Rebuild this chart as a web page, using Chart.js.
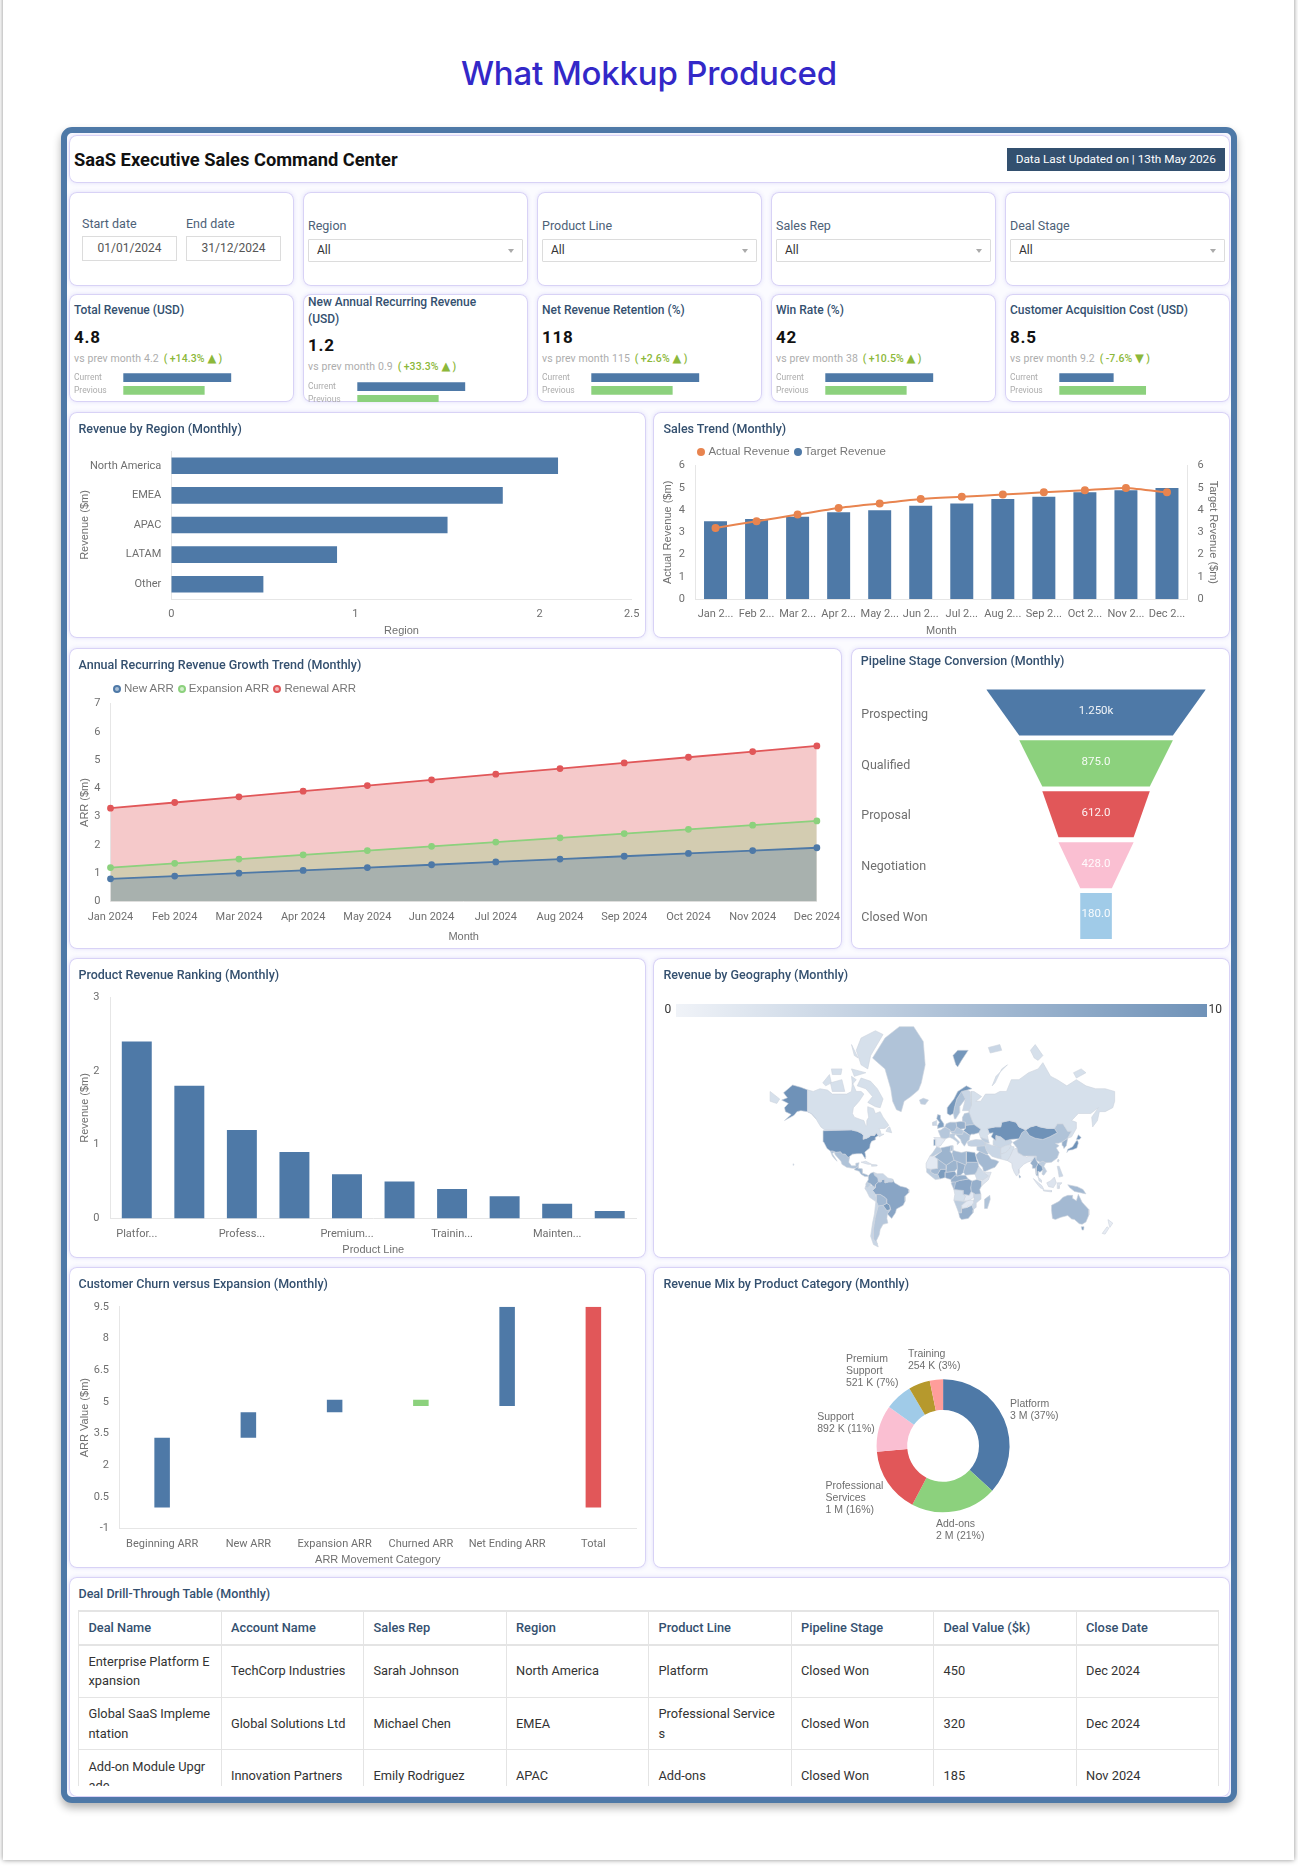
<!DOCTYPE html>
<html lang="en">

<head>
    <meta charset="UTF-8">
    <title>SaaS Executive Sales Command Center</title>
    <script src="https://cdn.jsdelivr.net/npm/chart.js"></script>
    <style>
        * { box-sizing: border-box; }
        html, body { margin: 0; width: 1298px; height: 1867px; overflow: hidden; background: #fff; font-family: Roboto, sans-serif; }
        .sheet { position: absolute; left: 3px; top: -12px; width: 1291px; height: 1872px; background: #fff; box-shadow: 0 0 5px rgba(0, 0, 0, .45); }
        .heading { position: absolute; left: 0; width: 1298px; top: 53px; text-align: center; font: 500 33px/40px Inter, sans-serif; color: #3328c8; letter-spacing: -.2px; }
        .frame { position: absolute; left: 60.5px; top: 127px; width: 1176px; height: 1676px; border: 6px solid #4e79a7; border-radius: 11px; background: #fbfbff; box-shadow: 0 5px 8px rgba(0, 0, 0, .3); }
        .card { position: absolute; background: #fff; border-radius: 8px; box-shadow: inset 0 0 0 1px #d8d2f6, 0 0 4px rgba(110, 100, 230, .18); overflow: hidden; }
        .card canvas { position: absolute; left: 0; top: 0; }
        .card-title { position: absolute; left: 10px; top: 9px; font: 500 12.5px/16px Roboto, sans-serif; color: #34506f; white-space: nowrap; }
        .main-title { position: absolute; left: 5.5px; top: 13px; font: 700 18.3px/24px Roboto, sans-serif; color: #111; }
        .updated { position: absolute; right: 5.5px; top: 13px; width: 217.5px; height: 23px; background: #33506f; color: #fff; text-align: center; font: 400 11.8px/23px Roboto, sans-serif; }
        .flabel { position: absolute; font: 400 12.5px/16px Roboto, sans-serif; color: #4d6177; }
        .date { position: absolute; top: 43.5px; width: 95px; height: 25px; border: 1px solid #dcdcdc; text-align: center; font: 400 12px/23px Roboto, sans-serif; color: #555; }
        .select { position: absolute; left: 5.5px; top: 47px; width: 214.5px; height: 23px; border: 1px solid #dcdcdc; border-radius: 1px; padding-left: 8px; font: 400 12px/21px Roboto, sans-serif; color: #333; }
        .select::after { content: ""; position: absolute; right: 8px; top: 9px; border: 3px solid transparent; border-top: 4px solid #aaa; }
        .kpi-title { position: absolute; left: 5.5px; width: 200px; font: 500 12px/16.7px Roboto, sans-serif; color: #34506f; }
        .kpi-value { position: absolute; left: 5.5px; font: 700 17px/20px Roboto, sans-serif; letter-spacing: .8px; color: #111; }
        .kpi-sub { position: absolute; left: 5.5px; font: 400 10.5px/14px Roboto, sans-serif; letter-spacing: .1px; color: #adadad; white-space: nowrap; }
        .kpi-sub b { font-weight: 500; color: #8cb83a; }
        .kpi-sub .tri { font: 400 11.5px/14px "DejaVu Sans", sans-serif; }
        .legend { position: absolute; font: 400 11.5px/14px "Liberation Sans", sans-serif; color: #777; white-space: nowrap; }
        .legend i { display: inline-block; width: 8px; height: 8px; border-radius: 50%; margin: 0 3px 0 4px; vertical-align: -1px; }
        .scale-bar { position: absolute; left: 22.6px; top: 45.5px; width: 531px; height: 13px; background: linear-gradient(90deg, #f0f3f8, #6f92b8); }
        .scale-num { position: absolute; top: 43px; font: 400 12px/16px Roboto, sans-serif; color: #333; }
        .deals { position: absolute; left: 9.5px; top: 33px; width: 1141px; height: 175.5px; overflow: hidden; }
        table { width: 1141px; table-layout: fixed; border-collapse: collapse; font: 400 12.8px/19.5px Roboto, sans-serif; color: #333; }
        td, th { border: 1px solid #e4e4e4; padding: 6px 9.5px; text-align: left; word-break: break-all; height: 52.7px; }
        th { height: 33.5px; font-weight: 500; color: #34506f; border-bottom: 2px solid #e4e4e4; border-top: 2px solid #e4e4e4; white-space: nowrap; }
    </style>
</head>

<body>
    <div class="sheet"></div>
    <div class="heading">What Mokkup Produced</div>
    <div class="frame"></div>

    <div class="card" style="left:68.5px;top:135px;width:1161.5px;height:48px">
        <div class="main-title">SaaS Executive Sales Command Center</div>
        <div class="updated">Data Last Updated on | 13th May 2026</div>
    </div>

    <!-- filtros -->
    <div class="card" style="left:68.5px;top:192px;width:225.5px;height:94px">
        <div class="flabel" style="left:13.5px;top:24px">Start date</div>
        <div class="flabel" style="left:117.5px;top:24px">End date</div>
        <div class="date" style="left:13.5px">01/01/2024</div>
        <div class="date" style="left:117.5px">31/12/2024</div>
    </div>
    <div id="filters"></div>
    <div id="kpis"></div>

    <div class="card" style="left:68.5px;top:412px;width:577px;height:226px">
        <canvas id="regionChart"></canvas>
        <div class="card-title">Revenue by Region (Monthly)</div>
    </div>
    <div class="card" style="left:653.4px;top:412px;width:576.6px;height:226px">
        <canvas id="trendChart"></canvas>
        <div class="card-title">Sales Trend (Monthly)</div>
        <div class="legend" style="left:40px;top:31.6px"><i style="background:#e8844f"></i>Actual Revenue<i style="background:#4e79a7"></i>Target Revenue</div>
    </div>

    <div class="card" style="left:68.5px;top:647.5px;width:773.2px;height:301px">
        <canvas id="arrChart"></canvas>
        <div class="card-title">Annual Recurring Revenue Growth Trend (Monthly)</div>
        <div class="legend" style="left:40.5px;top:33px">
            <i style="border:2px solid #4e79a7;background:#a9bfd6"></i>New ARR<i style="border:2px solid #8cd17d;background:#d3eecd"></i>Expansion ARR<i style="border:2px solid #e15759;background:#f2b9ba"></i>Renewal ARR
        </div>
    </div>
    <div class="card" style="left:850.5px;top:647.5px;width:379.5px;height:301px">
        <canvas id="funnelChart"></canvas>
        <div class="card-title" style="top:5px;left:10.3px">Pipeline Stage Conversion (Monthly)</div>
    </div>

    <div class="card" style="left:68.5px;top:958px;width:577px;height:300px">
        <canvas id="productChart"></canvas>
        <div class="card-title">Product Revenue Ranking (Monthly)</div>
    </div>
    <div class="card" style="left:653.4px;top:958px;width:576.6px;height:300px">
        <canvas id="geoChart"></canvas>
        <div class="card-title">Revenue by Geography (Monthly)</div>
        <div class="scale-num" style="left:11px">0</div>
        <div class="scale-bar"></div>
        <div class="scale-num" style="left:555px">10</div>
    </div>

    <div class="card" style="left:68.5px;top:1267px;width:577px;height:301px">
        <canvas id="churnChart"></canvas>
        <div class="card-title">Customer Churn versus Expansion (Monthly)</div>
    </div>
    <div class="card" style="left:653.4px;top:1267px;width:576.6px;height:301px">
        <canvas id="mixChart"></canvas>
        <div class="card-title">Revenue Mix by Product Category (Monthly)</div>
    </div>

    <div class="card" style="left:68.5px;top:1577px;width:1161.5px;height:220px">
        <div class="card-title">Deal Drill-Through Table (Monthly)</div>
        <div class="deals"><table id="dealTable"></table></div>
    </div>

    <script>
        // filtros e KPIs
        const filterNames = ['Region', 'Product Line', 'Sales Rep', 'Deal Stage'];
        const kpiTitles = ['Total Revenue (USD)', 'New Annual Recurring Revenue (USD)', 'Net Revenue Retention (%)', 'Win Rate (%)', 'Customer Acquisition Cost (USD)'];
        const kpiValues = ['4.8', '1.2', '118', '42', '8.5'];
        const kpiPrevious = ['4.2', '0.9', '115', '38', '9.2'];
        const kpiChanges = ['+14.3% ▲', '+33.3% ▲', '+2.6% ▲', '+10.5% ▲', '-7.6% ▼'];
        const kpiBarCurrent = [1, 1, 1, 1, 0.5];
        const kpiBarPrevious = [0.75, 0.75, 0.75, 0.75, 0.8];

        // receita por região
        const regions = ['North America', 'EMEA', 'APAC', 'LATAM', 'Other'];
        const regionRevenue = [2.1, 1.8, 1.5, 0.9, 0.5];
        const regionTicks = [0, 1, 2, 2.5];

        // tendência de vendas
        const trendMonths = ['Jan 2...', 'Feb 2...', 'Mar 2...', 'Apr 2...', 'May 2...', 'Jun 2...', 'Jul 2...', 'Aug 2...', 'Sep 2...', 'Oct 2...', 'Nov 2...', 'Dec 2...'];
        const actualRevenue = [3.2, 3.5, 3.8, 4.1, 4.3, 4.5, 4.6, 4.7, 4.8, 4.9, 5.0, 4.8];
        const targetRevenue = [3.5, 3.6, 3.7, 3.9, 4.0, 4.2, 4.3, 4.5, 4.6, 4.8, 4.9, 5.0];

        // ARR
        const arrMonths = ['Jan 2024', 'Feb 2024', 'Mar 2024', 'Apr 2024', 'May 2024', 'Jun 2024', 'Jul 2024', 'Aug 2024', 'Sep 2024', 'Oct 2024', 'Nov 2024', 'Dec 2024'];
        const newArr = [0.8, 0.9, 1.0, 1.1, 1.2, 1.3, 1.4, 1.5, 1.6, 1.7, 1.8, 1.9];
        const expansionArr = [1.2, 1.35, 1.5, 1.65, 1.8, 1.95, 2.1, 2.25, 2.4, 2.55, 2.7, 2.85];
        const renewalArr = [3.3, 3.5, 3.7, 3.9, 4.1, 4.3, 4.5, 4.7, 4.9, 5.1, 5.3, 5.5];

        // funil
        const stages = ['Prospecting', 'Qualified', 'Proposal', 'Negotiation', 'Closed Won'];
        const stageValues = [1250, 875, 612, 428, 180];
        const stageLabels = ['1.250k', '875.0', '612.0', '428.0', '180.0'];

        // ranking de produtos
        const productLabels = ['Platfor...', '', 'Profess...', '', 'Premium...', '', 'Trainin...', '', 'Mainten...', ''];
        const productRevenue = [2.4, 1.8, 1.2, 0.9, 0.6, 0.5, 0.4, 0.3, 0.2, 0.1];

        // cascata de ARR
        const churnCategories = ['Beginning ARR', 'New ARR', 'Expansion ARR', 'Churned ARR', 'Net Ending ARR', 'Total'];
        const churnFrom = [0, 3.3, 4.5, 4.8, 4.8, 0];
        const churnTo = [3.3, 4.5, 5.1, 5.1, 9.5, 9.5];
        const churnTicks = [-1, 0.5, 2, 3.5, 5, 6.5, 8, 9.5];

        // mix de produtos (valores em $k; a fatia sem rótulo vem antes de Training)
        const mixValues = [2890, 1640, 1250, 892, 521, 410, 254];
        const mixLabels = [['Platform', '3 M (37%)'], ['Add-ons', '2 M (21%)'], ['Professional', 'Services', '1 M (16%)'], ['Support', '892 K (11%)'], ['Premium', 'Support', '521 K (7%)'], [], ['Training', '254 K (3%)']];
        const mixLabelSpots = [[357.1, 137], [283, 256.7], [172.6, 219], [164.2, 149.7], [192.9, 92.3], null, [254.9, 87]];

        // tabela
        const dealColumns = ['Deal Name', 'Account Name', 'Sales Rep', 'Region', 'Product Line', 'Pipeline Stage', 'Deal Value ($k)', 'Close Date'];
        const dealRows = [
            ['Enterprise Platform Expansion', 'TechCorp Industries', 'Sarah Johnson', 'North America', 'Platform', 'Closed Won', '450', 'Dec 2024'],
            ['Global SaaS Implementation', 'Global Solutions Ltd', 'Michael Chen', 'EMEA', 'Professional Services', 'Closed Won', '320', 'Dec 2024'],
            ['Add-on Module Upgrade', 'Innovation Partners', 'Emily Rodriguez', 'APAC', 'Add-ons', 'Closed Won', '185', 'Nov 2024']
        ];

        // mapa: contornos simplificados em pares lon,lat, valor de 0 a 10
        const geoValues = {
            Canada: 2, Baffin: 2, Victoria: 2, Ellesmere: 2, Banks: 2, Devon: 2, Melville: 2, Newfoundland: 2, Axel: 2, Somerset: 2,
            Alaska: 10, Usa: 10, Mexico: 5, CentralAmerica: 6.5, Cuba: 1.5, Hispaniola: 2, Hawaii: 4,
            Colombia: 7.5, Venezuela: 3, Ecuador: 4, Peru: 3, Brazil: 8, Bolivia: 6, Paraguay: 9, Chile: 3, Argentina: 4.5,
            Greenland: 5, Iceland: 4, Norway: 9.5, Sweden: 5, Finland: 3, Uk: 8.5, Ireland: 3, France: 4.5, Spain: 1, Portugal: 9,
            Germany: 6, Poland: 7, CentralEurope: 4.5, Italy: 4, Balkans: 5, Ukraine: 8.5, Baltics: 5, Turkey: 3.5, Caucasus: 4,
            Russia: 2, Chukotka: 2, NovayaZemlya: 2, Svalbard: 9.5, FranzJosef: 3, Severnaya: 2, NewSiberian: 2,
            Kazakhstan: 10, Mongolia: 10, China: 5, Korea: 7, Honshu: 10, Hokkaido: 10, Taiwan: 3,
            India: 1.5, Pakistan: 2, Afghanistan: 2, CentralAsia: 3, Iran: 3, Iraq: 5, Saudi: 6,
            Myanmar: 7, Thailand: 9, Indochina: 4, Malaya: 2, Sumatra: 1.5, Borneo: 1.5, Java: 1.5, Sulawesi: 1.5, NewGuinea: 6, Philippines: 3, SriLanka: 10,
            Australia: 6, Tasmania: 9, NzNorth: .7, NzSouth: .7,
            Morocco: 4, Mauritania: 1, Algeria: 6.5, Tunisia: 5, Libya: 6, Egypt: 9, Sudan: 6, Mali: 6, Niger: 6.5, Chad: 7, Nigeria: 8,
            WestCoast: 4, Ghana: 9, Cameroon: 7, Ethiopia: 2.5, Somalia: 1.5, Congo: 8, Gabon: 6, EastAfrica: 7, Angola: 2, Zambia: 1,
            Mozambique: 3, Namibia: 4, Zimbabwe: 1, SouthAfrica: 7, Madagascar: 5
        };
        const geoOutlines = {
            Canada: [-141,69.6,-135,69,-128,70,-120,69.5,-115,68,-108,68,-100,68,-95,69,-94,72,-90,69,-85,69,-82,68,-87,65,-93,62,-94,59,-92,57,-85,55.5,-82,55,-80,51.5,-79,52,-79,55,-77,57,-78,60,-78,62.5,-72,61.5,-70,59,-65,60,-62,57,-57,53,-56,52,-60,50,-66,50,-65,48.5,-64,46,-61,46,-66,44,-67,45,-69,47,-71,45,-75,45,-79,43,-83,42,-82.5,45,-84,46.5,-89,48,-95,49,-123,49,-127,51,-130,54,-132,56,-137,59,-141,60],
            Baffin: [-62,66,-65,62,-70,62.5,-78,64.5,-73,67,-80,70,-89,71,-85,73.5,-75,72.5,-68,70],
            Victoria: [-117,72,-105,73,-102,69,-115,69],
            Ellesmere: [-62,82.5,-70,83,-85,82,-90,80,-85,77,-78,76,-75,79],
            Banks: [-125,72,-118,74.5,-116,72,-122,71],
            Devon: [-95,76,-80,75,-92,74],
            Melville: [-116,76,-105,76,-106,74.5,-115,74.5],
            Newfoundland: [-59,48,-53,47,-55,51,-57,50.5],
            Axel: [-95,81,-88,78.5,-92,79],
            Somerset: [-95,74,-90,73,-94,71.5],
            Alaska: [-141,69.6,-148,70.5,-156.5,71.3,-166,68.5,-162,66.5,-168,65.5,-161,64,-165,62,-164,60,-158,58.5,-165,55,-155,58,-152,60,-148,60.5,-141,60,-137,59,-132,56,-130,55.5,-135,59,-141,60],
            Usa: [-124.7,48.4,-95,49,-89,48,-84.5,46.5,-82.5,45,-82.5,42.5,-79,43,-76,44,-75,45,-71,45,-69,47,-67,45,-70,43.5,-70,41.7,-74,40.5,-75.5,38,-76,35,-81,31.5,-80,27,-80.5,25.2,-82.5,28,-84,30,-89,30,-94,29.5,-97,27.5,-97.2,26,-99.5,27.5,-101.5,29.7,-104.5,29.7,-106.5,31.8,-111,31.3,-114.8,32.5,-117.1,32.5,-120.5,34.5,-124,40],
            Mexico: [-117.1,32.5,-114.8,32.5,-111,31.3,-106.5,31.8,-104.5,29.7,-101.5,29.7,-99.5,27.5,-97.2,26,-97.8,22,-95,18.5,-91,18.5,-90.5,21,-87,21.5,-88,18,-91,16,-94,16,-100,17,-105,20,-106,23,-112,29,-113,31.5,-115,30,-112,26,-110,23,-112,24.5,-115,28],
            CentralAmerica: [-92,14.5,-91,16,-88,18,-88,16,-84,15.5,-83.5,11,-79,9.5,-77.3,8.5,-78,7.5,-81,7.5,-85,10,-87,13],
            Cuba: [-85,22,-80,23,-74,20,-78,20],
            Hispaniola: [-74,19.8,-69,19.5,-68.5,18.3,-74,18],
            Hawaii: [-156,20.5,-155,19.8,-155.5,19,-156,19.5],
            Colombia: [-77.3,8.5,-75,11,-72,12,-71,9,-67.5,6,-67,2,-70,-1,-70,-4,-73,-2,-75,0,-79,1.5,-77.5,4,-77.5,7],
            Venezuela: [-72,12,-68,10.5,-62,10.5,-57,6,-52,5,-52,2,-56,2,-60,1,-60,5,-64,4,-64,2,-67,2,-67.5,6,-71,9],
            Ecuador: [-79,1.5,-75,0,-75.5,-2,-78.5,-4.5,-80.5,-3,-80,0],
            Peru: [-80.5,-3,-78.5,-4.5,-75.5,-2,-73,-2,-70,-4,-73,-7,-70,-11,-69,-16,-70,-18,-76,-14,-79,-8,-81,-5],
            Brazil: [-60,5,-60,1,-56,2,-52,2,-52,5,-50,1,-44,-2.5,-38,-4,-35,-6,-35,-9,-39,-13,-39,-18,-41,-22,-48,-25.5,-49,-29,-53,-34,-57.5,-30,-54,-26,-55,-22,-58,-20,-58,-16,-60,-14,-65,-11,-70,-11,-73,-7,-70,-4,-70,-1,-67,2,-64,2,-64,4],
            Bolivia: [-69,-11,-65,-11,-60,-14,-58,-16,-58,-20,-62,-22,-67,-22.5,-69,-18],
            Paraguay: [-62,-22,-58,-20,-55,-22,-54.5,-26,-58,-27],
            Chile: [-69.5,-18,-67,-22.5,-70,-32,-72,-42,-72,-50,-68,-53,-67,-55,-72,-53.5,-75,-48,-73,-38,-71,-30],
            Argentina: [-67,-22.5,-62,-22,-58,-27,-54.5,-26,-57.5,-30,-58,-34,-57,-38,-62,-39,-65,-43,-66,-47,-69,-51,-68,-53,-72,-50,-72,-42,-70,-32],
            Greenland: [-73,78.5,-60,82,-45,83.5,-30,83.5,-20,81.5,-18,77,-22,72,-25,69.5,-33,67,-40,65,-43,60,-48,61,-52,65,-54,70,-60,76],
            Iceland: [-24,65.5,-20,66.3,-14.5,65.5,-18,63.5,-22.5,63.8],
            Norway: [5,59,5,62,12,66,16,69,25,71,31,70,26,69.5,20,69,15,66,12.5,62,11.5,59,8,58],
            Sweden: [11.5,59,12.5,62,15,66,20,69,24,66,18,62.5,18,59.5,14,56,12.5,56],
            Finland: [21,60.5,24,66,20,69,26,69.5,29,69,30,63,28,60.5],
            Uk: [-5,50,1,51,1.5,53,-2,56,-2,58,-5,58.5,-6,56,-3,54,-5,52],
            Ireland: [-10,52,-6,52,-6,55,-10,54],
            France: [-1.5,43.4,3,42.5,7.5,43.7,8,49,2.5,51,-1.5,49,-4.5,48.5],
            Spain: [-9,43.5,-1.5,43.4,3,42,0,39,-2,36.8,-6,36,-7,37.5,-7,42],
            Portugal: [-9,42,-7,42,-7,37.5,-9,37],
            Germany: [2.5,51,4,53,8,54,14,54,15,51,12.5,48,8,48,8,49],
            Poland: [14,54,19,54.5,24,54,24,50,19,49.5,15,51],
            CentralEurope: [8,48,12.5,48,15,51,19,49.5,22,48.5,21,46,16,46,10,46.5],
            Italy: [7.5,43.7,7,46,13.5,46.5,12.5,44,18,40,16,38,15.5,40,11,42.5],
            Balkans: [13.5,46,21,46,22,48,29,45,28,41.5,26,40.5,23,36.5,20,39.5,19,42],
            Ukraine: [22,48.5,24,50,24,52,33,52.5,40,49.5,38,47,33,46,30,46,29,45],
            Baltics: [21,54,24,54,24,52,33,52.5,31,55,28,59.5,23,59,21,57],
            Turkey: [26,40,29,41,35,42,41.5,41.5,44.5,39.5,44.5,37,36,36.5,30,36.5,27,37],
            Caucasus: [40,43.5,48,41.5,49,39,44.5,39.5,41.5,41.5],
            Russia: [28,59.5,31,55,33,52.5,40,49.5,38,47,40,43.5,48,41.5,47,45,49,46.5,47,50,55,51,61,51,62,54,70,55,77,54,80,51,87,49,92,51,98,52,102,51,110,50,117,50,120,53,126,53,131,48,135,48,131,43,135,44,140,50,140,54,135,55,142,59,155,59,163,62,156,57,157,51,162,55,164,60,170,60,178,62,180,65,180,69,170,70,160,70,150,71,140,73,130,71,120,73,113,74,105,77.5,100,76,90,75,80,73,72,73,67,69,60,69,55,68,45,68,40,65,35,65,41,67,33,69,30,69,30,63,28,60.5],
            Chukotka: [-180,69,-170,66,-173,64,-180,65],
            NovayaZemlya: [52,71,56,74,68,77,62,76,55,72],
            Svalbard: [11,79,16,80,27,80,20,78,16,76.5,14,77],
            FranzJosef: [48,80.5,60,81,62,80,50,79.5],
            Severnaya: [92,80,97,81,105,79,100,78,96,78.5],
            NewSiberian: [137,75,145,76,150,75,140,73.5],
            Kazakhstan: [47,50,55,51,61,51,62,54,70,55,77,54,80,51,87,49,83,47,80,42.5,71,42,66,41,61,44,56,45,56,41,51,44,53,47,49,46.5],
            Mongolia: [87,49,92,51,98,52,102,51,110,50,117,50,120,47,112,44,105,42,97,43,91,45],
            China: [73.5,39.5,80,42.5,83,47,87,49,91,45,97,43,105,42,112,44,120,47,117,50,120,53,126,53,131,48,135,48,131,43,125,40,121,39,118,39,122,37,119,35,122,31,120,26,114,22,108,21.5,105,23,102,22,98,24,98,28,92,28,85,28,79,31,78,35],
            Korea: [125,40,131,43,129.5,37,127,34.5,126,37],
            Honshu: [130,31,131,34,136,36,140,41,141.5,41,142,39,140.5,35,136,33.5,132,33],
            Hokkaido: [140,42,142,45.5,145,43.5,143,42],
            Taiwan: [120,23,121,25,122,24,121,22],
            India: [68,23.5,71,28,74,34,78,35,79,31,85,28,88,27,92,28,97,28,94,24,92,23,89,22,85,20,80,15,80,11,77.5,8,75,12,73,17,72.5,21],
            Pakistan: [61.5,25,61,29.5,66,31,70,34,71.5,36.5,75,36,74,33,71,28,68,23.5],
            Afghanistan: [61,29.5,61,35,66,37,71,38,71.5,36.5,70,34,66,31],
            CentralAsia: [53,37.5,53,41,56,45,61,44,66,41,71,42,73,40,71,38,66,37,61,35],
            Iran: [44.5,39.5,49,38,53,37,61,36,61,30,61.5,25,57,26,52,27.5,49,30,46,33,44.5,37],
            Iraq: [36,36.5,44.5,37,46,33,48,30,46.5,29,39,32,36,33],
            Saudi: [35,29,39,32,46.5,29,48,28.5,51,25,56,24,59,22.5,55,17,52,16,45,13,43,13,42,17,38,21,35.5,27],
            Myanmar: [92,21,94,24,97,28,98,24,100,21,98,17,98,10,97,16,94,16,94,19],
            Thailand: [98,17,100,21,104,18,105,14.5,102,12,100,13,100,8,98,9,98,12],
            Indochina: [100,21,102,22,105,23,108,21.5,106,18,109,13,106,9,104,10,105,14.5,104,18],
            Malaya: [100,8,101,3,104,1.5,103.5,4,100.5,6.5],
            Sumatra: [95,5.5,104,-2,106,-6,102,-4,98,1],
            Borneo: [109,1,113,3,117,7,119,1,116,-4,111,-3],
            Java: [105,-6.5,114,-7,114,-8.5,106,-7.5],
            Sulawesi: [120,1,125,1,122,-2,122,-5,120,-5],
            NewGuinea: [131,-1,141,-3,147,-6,150,-10.5,143,-9,138,-8,133,-4],
            Philippines: [120,18,122,18,124,13,126,8,122,7,121,13],
            SriLanka: [80,9.5,82,7,80.5,6],
            Australia: [114,-22,122,-18,126,-14,131,-12,136,-12,136,-15,140,-17.5,142,-11,146,-19,153,-26,153,-31,150,-37,146,-39,143,-38.5,138,-35,135,-34.5,131,-31.5,124,-33,118,-35,115,-34,114,-27],
            Tasmania: [145,-41,148,-41,147.5,-43.5,146,-43.5],
            NzNorth: [173,-35,178,-38,175,-41.5,174,-39],
            NzSouth: [172,-41,174,-42,170,-46.5,167,-46],
            Morocco: [-6,36,-2,35,-1,32,-9,28,-13,28,-10,31],
            Mauritania: [-17,21,-13,28,-8.5,27,-5,25,-5,16,-12,15,-16.5,16],
            Algeria: [-2,35,9,37,8,32,10,30,12,24,4,19,-5,25,-8.5,27,-1,32],
            Tunisia: [9,37,11,37,11,33,8,32],
            Libya: [11,33,15,32,20,31,25,32,25,20,24,19.5,15,23,12,24,10,30],
            Egypt: [25,32,34,31,36,24,37,22,25,22],
            Sudan: [25,22,37,22,38,18,36,13,34,10,24,9,22,12,24,19.5],
            Mali: [-12,15,-5,16,-5,25,4,19,4,15,-2,15,-5,10,-8,10,-12,12],
            Niger: [4,19,12,24,15,23,15.5,16,13,13,4,12,4,15],
            Chad: [15,23,24,19.5,22,12,19,9,15,8,15.5,16],
            Nigeria: [3,6.5,3,12,4,12,13,13,14.5,10,9,4.5,5,5.5],
            WestCoast: [-16.5,16,-12,15,-12,12,-8,10,-5,10,-3,5,-7.5,4.5,-13,9,-16.5,12],
            Ghana: [-5,10,-2,15,4,15,4,12,3,12,3,6.5,-3,5],
            Cameroon: [9,4.5,14.5,10,15,8,19,9,24,9,27,5,18,3.5,14,2,10,2],
            Ethiopia: [34,10,36,13,38,18,43,12,48,8,42,4,36,4.5],
            Somalia: [43,12,51,12,48,4,41,-2,41,3,48,8],
            Congo: [12,-6,14,2,18,3.5,27,5,31,3,29.5,-4,30,-8,28,-12,22,-11,22,-7],
            Gabon: [9,1,10,2,14,2,18,3.5,17,-1,12,-6],
            EastAfrica: [29.5,-1,31,3,36,4.5,41,3,41,-2,39,-6,40,-10.5,34.5,-11,30,-8],
            Angola: [12,-6,22,-7,22,-11,24,-13,22,-18,12,-17,13,-11],
            Zambia: [22,-11,28,-12,30,-8,33,-10,33,-14,28,-17,22,-18,24,-13],
            Mozambique: [33,-10,40,-10.5,40,-16,35,-20,35,-24,32.5,-26,31,-22,33,-19,33,-14],
            Namibia: [12,-17,22,-18,25,-18,20,-22,20,-29,17,-29,14.5,-23],
            Zimbabwe: [25,-18,28,-17,33,-17,33,-19,31,-22,27,-22,26,-24,20,-25,20,-22],
            SouthAfrica: [17,-29,20,-29,20,-25,26,-24,31,-22,32.5,-26,32,-29,27,-34,20,-35,18,-33],
            Madagascar: [44,-16,49.5,-12,50,-16,47,-25,44,-25]
        };

        const BLUE = '#4e79a7', GREEN = '#8cd17d', RED = '#e15759', PINK = '#fabfd2', SKY = '#a0cbe8', OLIVE = '#b6992d', SALMON = '#ff9d9a', ORANGE = '#e8844f';
        const TICK = '#6f6f6f', AXIS = '#e6e6e6';

        Chart.defaults.animation = false;
        Chart.defaults.responsive = false;
        Chart.defaults.font.family = 'Roboto';
        Chart.defaults.font.size = 11;
        Chart.defaults.color = TICK;
        Chart.defaults.plugins.legend.display = false;
        Chart.defaults.plugins.tooltip.enabled = false;

        // filtros
        const filterBox = document.getElementById('filters');
        filterNames.forEach((name, i) => {
            const x = 302.5 + i * 234;
            filterBox.insertAdjacentHTML('beforeend',
                `<div class="card" style="left:${x}px;top:192px;width:225.5px;height:94px">
                    <div class="flabel" style="left:5.5px;top:25.5px">${name}</div>
                    <div class="select">All</div>
                </div>`);
        });

        // cartões de KPI
        const kpiBox = document.getElementById('kpis');
        kpiTitles.forEach((title, i) => {
            const x = 68.5 + i * 234;
            const shift = i === 1 ? 8.3 : 0; // título em duas linhas empurra o resto
            const change = kpiChanges[i].replace(/[▲▼]/, m => `<span class="tri">${m}</span>`);
            kpiBox.insertAdjacentHTML('beforeend',
                `<div class="card" style="left:${x}px;top:294px;width:225.5px;height:108px">
                    <div class="kpi-title" style="top:${i === 1 ? 0 : 8}px">${title}</div>
                    <div class="kpi-value" style="top:${33 + shift}px">${kpiValues[i]}</div>
                    <div class="kpi-sub" style="top:${57 + shift}px">vs prev month ${kpiPrevious[i]} <b>&thinsp;(&thinsp;${change}&thinsp;)</b></div>
                    <canvas id="kpiBar${i}" width="160" height="36" style="left:5.5px;top:${72.3 + shift}px"></canvas>
                </div>`);
        });
        kpiTitles.forEach((title, i) => {
            new Chart(document.getElementById('kpiBar' + i), {
                type: 'bar',
                data: { labels: ['Current', 'Previous'], datasets: [{ data: [kpiBarCurrent[i], kpiBarPrevious[i]], backgroundColor: [BLUE, GREEN], barThickness: 8 }] },
                options: {
                    indexAxis: 'y',
                    layout: { padding: { right: 2.7 } },
                    scales: {
                        x: { display: false, min: 0, max: 1 },
                        y: {
                            grid: { display: false, drawTicks: false }, border: { display: false },
                            ticks: { crossAlign: 'far', padding: 0, font: { size: 8.5 }, color: '#adadad', autoSkip: false },
                            afterFit(s) { s.width = 49.3; }
                        }
                    }
                }
            });
        });

        // monta o canvas e devolve os ajustes para a área do gráfico cair no retângulo pedido
        function plotBox(id, cardRect, area, leftPad) {
            const [cx, cy, cw, ch] = cardRect;
            const cv = document.getElementById(id);
            cv.width = cw; cv.height = ch;
            const pad = leftPad || 0;
            return {
                padding: { left: pad, top: area[1] - cy, right: cx + cw - area[2], bottom: 0 },
                leftW: area[0] - cx - pad,
                rightW: cx + cw - area[2],
                bottomH: cy + ch - area[3]
            };
        }

        const xTicks = { padding: 9, maxRotation: 0, autoSkip: false };

        function xAxis(box, opts) {
            return Object.assign({
                grid: { display: false, drawTicks: false }, border: { color: AXIS },
                ticks: xTicks,
                afterFit(s) { s.height = box.bottomH; }
            }, opts);
        }

        function yAxis(box, opts) {
            return Object.assign({
                grid: { display: false, drawTicks: false }, border: { color: AXIS },
                ticks: { padding: 10 },
                afterFit(s) { s.width = box.leftW; }
            }, opts);
        }

        function axisTitle(text, pad) {
            return { display: true, text: text, color: TICK, font: { family: 'Liberation Sans', size: 11 }, padding: pad };
        }

        // receita por região
        const regionBox = plotBox('regionChart', [68.5, 412, 583, 226], [170.8, 451, 631.2, 599]);
        new Chart(document.getElementById('regionChart'), {
            type: 'bar',
            data: { labels: regions, datasets: [{ data: regionRevenue, backgroundColor: BLUE, barPercentage: 0.56, categoryPercentage: 1 }] },
            options: {
                indexAxis: 'y',
                layout: { padding: regionBox.padding },
                scales: {
                    x: xAxis(regionBox, {
                        min: 0, max: 2.5,
                        afterBuildTicks(s) { s.ticks = regionTicks.map(v => ({ value: v })); },
                        ticks: Object.assign({ callback: v => v }, xTicks),
                        title: axisTitle('Region', { top: 0, bottom: 0.4 })
                    }),
                    y: yAxis(regionBox, { title: axisTitle('Revenue ($m)', { top: 9, bottom: 0 }) })
                }
            }
        });

        // tendência de vendas
        const trendBox = plotBox('trendChart', [653.4, 412, 576.6, 226], [695.4, 465.7, 1188.5, 599]);
        trendBox.padding.right = 0;
        new Chart(document.getElementById('trendChart'), {
            data: {
                labels: trendMonths,
                datasets: [
                    { type: 'line', label: 'Actual Revenue', data: actualRevenue, borderColor: ORANGE, backgroundColor: ORANGE, borderWidth: 2, pointRadius: 3, tension: 0.2, yAxisID: 'y' },
                    { type: 'bar', label: 'Target Revenue', data: targetRevenue, backgroundColor: BLUE, barPercentage: 0.56, categoryPercentage: 1, yAxisID: 'y2' }
                ]
            },
            options: {
                layout: { padding: trendBox.padding },
                scales: {
                    x: xAxis(trendBox, { title: axisTitle('Month', { top: 0, bottom: 0.8 }) }),
                    y: yAxis(trendBox, { min: 0, max: 6, title: axisTitle('Actual Revenue ($m)', { top: 8.6, bottom: 0 }) }),
                    y2: {
                        position: 'right', min: 0, max: 6,
                        grid: { display: false, drawTicks: false }, border: { color: AXIS },
                        ticks: { padding: 10 },
                        title: axisTitle('Target Revenue ($m)', { top: 9.4, bottom: 0 }),
                        afterFit(s) { s.width = trendBox.rightW; }
                    }
                }
            }
        });

        // crescimento de ARR
        const arrBox = plotBox('arrChart', [68.5, 647.5, 780.2, 301], [110, 703, 817.2, 901]);
        function arrSeries(label, data, color, fill) {
            return { label: label, data: data, borderColor: color, backgroundColor: color, borderWidth: 1.8, pointRadius: 2.5, fill: { target: 'origin', above: fill } };
        }
        new Chart(document.getElementById('arrChart'), {
            type: 'line',
            data: {
                labels: arrMonths,
                datasets: [
                    arrSeries('New ARR', newArr, BLUE, 'rgba(78,121,167,.32)'),
                    arrSeries('Expansion ARR', expansionArr, GREEN, 'rgba(140,209,125,.32)'),
                    arrSeries('Renewal ARR', renewalArr, RED, 'rgba(225,87,89,.32)')
                ]
            },
            options: {
                layout: { padding: arrBox.padding },
                scales: {
                    x: xAxis(arrBox, { offset: false, title: axisTitle('Month', { top: 0, bottom: 5 }) }),
                    y: yAxis(arrBox, { min: 0, max: 7, title: axisTitle('ARR ($m)', { top: 9, bottom: 0 }) })
                }
            }
        });

        // funil: cada etapa é um trapézio fechado entre o valor dela e o da próxima
        const funnelBox = plotBox('funnelChart', [850.5, 647.5, 379.5, 301], [985.8, 686.6, 1205.8, 940.6], 10.3);
        const stageGap = 0.047;
        const funnelShapes = stageValues.map((v, i) => {
            const next = i < stageValues.length - 1 ? stageValues[i + 1] : v;
            const top = i + stageGap, bottom = i + 1 - stageGap;
            return {
                data: [{ x: -v / 2, y: top }, { x: v / 2, y: top }, { x: next / 2, y: bottom }, { x: -next / 2, y: bottom }, { x: -v / 2, y: top }],
                showLine: true, fill: 'shape', pointRadius: 0, borderWidth: 0, tension: 0,
                backgroundColor: [BLUE, GREEN, RED, PINK, SKY][i]
            };
        });
        const funnelValues = {
            id: 'funnelValues',
            afterDatasetsDraw(chart) {
                const { ctx, scales } = chart;
                ctx.save();
                ctx.font = '11.5px Roboto';
                ctx.fillStyle = 'rgba(255,255,255,.92)';
                ctx.textAlign = 'center';
                ctx.textBaseline = 'middle';
                stageLabels.forEach((t, i) => ctx.fillText(t, scales.x.getPixelForValue(0), scales.y.getPixelForValue(i + 0.47)));
                ctx.restore();
            }
        };
        new Chart(document.getElementById('funnelChart'), {
            type: 'scatter',
            data: { datasets: funnelShapes },
            plugins: [funnelValues],
            options: {
                layout: { padding: funnelBox.padding },
                scales: {
                    x: { display: false, min: -625, max: 625 },
                    y: {
                        min: 0, max: 5, reverse: true,
                        grid: { display: false, drawTicks: false }, border: { display: false },
                        afterBuildTicks(s) { s.ticks = stages.map((n, i) => ({ value: i + 0.54 })); },
                        ticks: { crossAlign: 'far', padding: 0, font: { size: 12.5 }, callback: (v, i) => stages[i] },
                        afterFit(s) { s.width = funnelBox.leftW; }
                    }
                }
            }
        });

        // ranking de produtos
        const productBox = plotBox('productChart', [68.5, 958, 577, 300], [110, 997.4, 635.5, 1218.4]);
        new Chart(document.getElementById('productChart'), {
            type: 'bar',
            data: { labels: productLabels, datasets: [{ data: productRevenue, backgroundColor: BLUE, barPercentage: 0.57, categoryPercentage: 1 }] },
            options: {
                layout: { padding: productBox.padding },
                scales: {
                    x: xAxis(productBox, { title: axisTitle('Product Line', { top: 0, bottom: 1.4 }) }),
                    y: yAxis(productBox, { min: 0, max: 3, ticks: { padding: 11, stepSize: 1 }, title: axisTitle('Revenue ($m)', { top: 9, bottom: 0 }) })
                }
            }
        });

        // mapa: projeção de Mercator, cor proporcional ao valor
        function mercator(lat) {
            return Math.log(Math.tan(Math.PI / 4 + lat * Math.PI / 360));
        }
        function shade(v) {
            const low = [240, 243, 248], high = [111, 146, 184], t = v / 10;
            return `rgb(${low.map((c, i) => Math.round(c + (high[i] - c) * t)).join(',')})`;
        }
        const geoShapes = Object.keys(geoOutlines).map(name => {
            const flat = geoOutlines[name], pts = [];
            for (let i = 0; i < flat.length; i += 2) pts.push({ x: flat[i], y: mercator(flat[i + 1]) });
            pts.push(pts[0]);
            return { label: name, data: pts, showLine: true, fill: 'shape', pointRadius: 0, tension: 0, borderWidth: 0.6, borderColor: '#ccd3de', backgroundColor: shade(geoValues[name]) };
        });
        const geoCanvas = document.getElementById('geoChart');
        geoCanvas.width = 577; geoCanvas.height = 300;
        new Chart(geoCanvas, {
            type: 'scatter',
            data: { datasets: geoShapes },
            options: {
                layout: { padding: { left: 106.6, right: 100.4, top: 62, bottom: 3 } },
                scales: {
                    x: { display: false, min: -191, max: 195.6 },
                    y: { display: false, min: -1.3, max: 2.99 }
                }
            }
        });

        // cascata
        const churnBox = plotBox('churnChart', [68.5, 1267, 577, 301], [118.5, 1306.8, 636, 1528.5]);
        new Chart(document.getElementById('churnChart'), {
            type: 'bar',
            data: {
                labels: churnCategories,
                datasets: [{
                    data: churnFrom.map((v, i) => [v, churnTo[i]]),
                    backgroundColor: [BLUE, BLUE, BLUE, GREEN, BLUE, RED],
                    barPercentage: 0.18, categoryPercentage: 1
                }]
            },
            options: {
                layout: { padding: churnBox.padding },
                scales: {
                    x: xAxis(churnBox, { title: axisTitle('ARR Movement Category', { top: 0, bottom: 1.4 }) }),
                    y: yAxis(churnBox, {
                        min: -1, max: 9.5,
                        afterBuildTicks(s) { s.ticks = churnTicks.map(v => ({ value: v })); },
                        ticks: { padding: 10, callback: v => v },
                        title: axisTitle('ARR Value ($m)', { top: 9, bottom: 0 })
                    })
                }
            }
        });

        // rosca
        const mixCanvas = document.getElementById('mixChart');
        mixCanvas.width = 577; mixCanvas.height = 301;
        const mixText = {
            id: 'mixText',
            afterDraw(chart) {
                const ctx = chart.ctx;
                ctx.save();
                ctx.font = '10.5px "Liberation Sans"';
                ctx.fillStyle = TICK;
                ctx.textBaseline = 'middle';
                mixLabels.forEach((lines, i) => {
                    if (!mixLabelSpots[i]) return;
                    lines.forEach((t, n) => ctx.fillText(t, mixLabelSpots[i][0], mixLabelSpots[i][1] + n * 12));
                });
                ctx.restore();
            }
        };
        new Chart(mixCanvas, {
            type: 'doughnut',
            data: { datasets: [{ data: mixValues, backgroundColor: [BLUE, GREEN, RED, PINK, SKY, OLIVE, SALMON], borderWidth: 0 }] },
            plugins: [mixText],
            options: {
                cutout: '54%',
                layout: { padding: { left: 223.6, right: 220.4, top: 112.3, bottom: 55.7 } }
            }
        });

        // tabela de negócios
        document.getElementById('dealTable').innerHTML =
            '<tr>' + dealColumns.map(c => `<th>${c}</th>`).join('') + '</tr>' +
            dealRows.map(r => '<tr>' + r.map(c => `<td>${c}</td>`).join('') + '</tr>').join('');
    </script>
</body>

</html>
